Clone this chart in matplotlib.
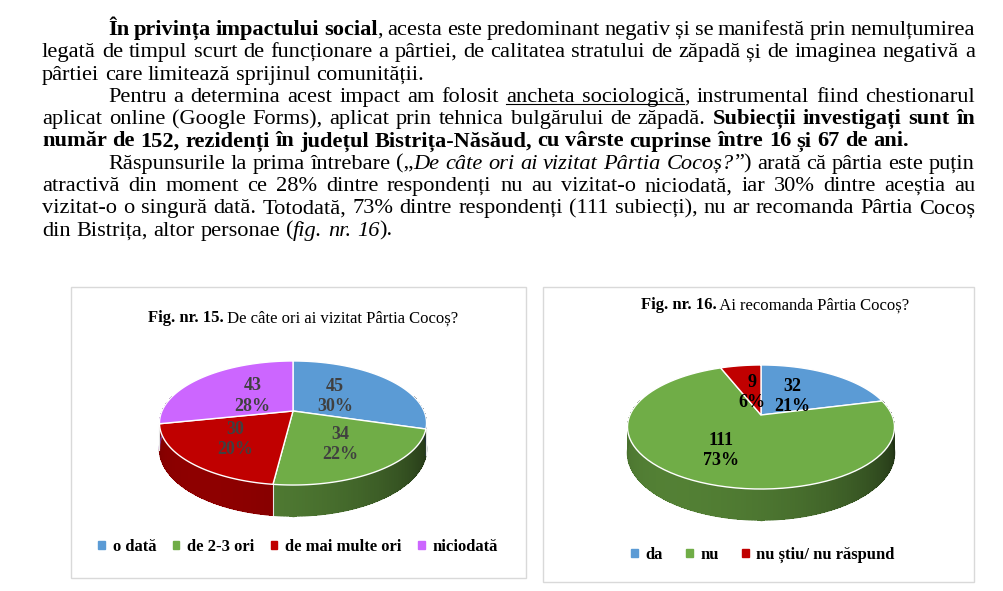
import numpy as np
import matplotlib.pyplot as plt
from matplotlib.patches import Rectangle, Patch
from matplotlib.colors import to_rgb

SERIF = 'Liberation Serif'

# fig. nr. 15 - De câte ori ai vizitat Pârtia Cocoș?
fig15_labels = ['o dată', 'de 2-3 ori', 'de mai multe ori', 'niciodată']
fig15_values = [45, 34, 30, 43]
fig15_colors = ['#5B9BD5', '#70AD47', '#C00000', '#CC66FF']

# fig. nr. 16 - Ai recomanda Pârtia Cocoș?
fig16_labels = ['da', 'nu', 'nu știu/ nu răspund']
fig16_values = [32, 111, 9]
fig16_colors = ['#5B9BD5', '#70AD47', '#C00000']

# page text: (pieces, first line of paragraph, last line of paragraph)
# style codes: n normal, b bold, i italic, u underlined
page_lines = [
    ([('În privința impactului social', 'b'),
      (', acesta este predominant negativ și se manifestă prin nemulțumirea', 'n')], True, False),
    ([('legată de timpul scurt de funcționare a pârtiei, de calitatea stratului de zăpadă și de imaginea negativă a', 'n')], False, False),
    ([('pârtiei care limitează sprijinul comunității.', 'n')], False, True),
    ([('Pentru a determina acest impact am folosit ', 'n'), ('ancheta sociologică', 'u'),
      (', instrumental fiind chestionarul', 'n')], True, False),
    ([('aplicat online (Google Forms), aplicat prin tehnica bulgărului de zăpadă. ', 'n'),
      ('Subiecții investigați sunt în', 'b')], False, False),
    ([('număr de 152, rezidenți în județul Bistrița-Năsăud, cu vârste cuprinse între 16 și 67 de ani.', 'b')], False, True),
    ([('Răspunsurile la prima întrebare („', 'n'), ('De câte ori ai vizitat Pârtia Cocoș?', 'i'),
      ('”) arată că pârtia este puțin', 'n')], True, False),
    ([('atractivă din moment ce 28% dintre respondenți nu au vizitat-o niciodată, iar 30% dintre aceștia au', 'n')], False, False),
    ([('vizitat-o o singură dată. Totodată, 73% dintre respondenți (111 subiecți), nu ar recomanda Pârtia Cocoș', 'n')], False, False),
    ([('din Bistrița, altor personae (', 'n'), ('fig. nr. 16', 'i'), (').', 'n')], False, True),
]

STYLE = {'n': {}, 'b': {'fontweight': 'bold'}, 'i': {'fontstyle': 'italic'}, 'u': {}}

W, H = 1004, 591
fig = plt.figure(figsize=(W / 100, H / 100), dpi=100)
ax = fig.add_axes([0, 0, 1, 1])
ax.set_xlim(0, W)
ax.set_ylim(H, 0)
ax.axis('off')
renderer = fig.canvas.get_renderer()


def text_width(s, st, fs):
    t = ax.text(0, 0, s, fontsize=fs, fontfamily=SERIF, **STYLE[st])
    w = t.get_window_extent(renderer).width
    t.remove()
    return w


def space_width(fs):
    return text_width('a a', 'n', fs) - text_width('aa', 'n', fs)


def split_words(pieces):
    words = [[]]
    for txt, st in pieces:
        for j, p in enumerate(txt.split(' ')):
            if j > 0:
                words.append([])
            if p:
                words[-1].append((p, st))
    return [w for w in words if w]


def draw_runs(x, y, pieces, fs, color='black'):
    for p, st in pieces:
        ax.text(x, y, p, fontsize=fs, fontfamily=SERIF, va='baseline', ha='left',
                color=color, zorder=5, **STYLE[st])
        x += text_width(p, st, fs)
    return x


# ---- justified paragraphs ----
LEFT, RIGHT, INDENT = 42, 975, 108
BASE0, LEAD = 35, 22.3

# size the font so the bold closing line of paragraph 2 ends where it does on the page
ref_words = split_words(page_lines[5][0])
w10 = sum(text_width(p, st, 10) for w in ref_words for p, st in w) + (len(ref_words) - 1) * space_width(10)
fs = 10 * (911 - LEFT) / w10
sp = space_width(fs)

for i, (pieces, first, last) in enumerate(page_lines):
    y = BASE0 + i * LEAD
    x0 = INDENT if first else LEFT
    words = split_words(pieces)
    widths = [sum(text_width(p, st, fs) for p, st in w) for w in words]
    gap = sp if last else (RIGHT - x0 - sum(widths)) / (len(words) - 1)
    x = x0
    ul = []
    for w, ww in zip(words, widths):
        xs = x
        for p, st in w:
            xe = xs + text_width(p, st, fs)
            if st == 'u':
                ul.append((xs, xe))
            xs = xe
        draw_runs(x, y, w, fs)
        x += ww + gap
    if ul:
        ax.plot([ul[0][0], ul[-1][1]], [y + 2.5, y + 2.5], color='black', lw=0.8)


# ---- 3D pies (perspective view of a flat cylinder) ----
K, A, RX, DEPTH = 0.1935, 59.7, 131, 25


def proj(cx, cy, th, r=1.0, z=0.0):
    x, y = r * np.cos(th), r * np.sin(th)
    f = 1 / (1 + K * y)
    return cx + RX * x * f, cy - A * y * f + DEPTH * z * f


def shade(color, th):
    b = 0.42 + 0.32 * np.cos(th - np.radians(-125))
    return tuple(c * b for c in to_rgb(color))


def slice_of(bounds, t):
    return np.nonzero((bounds[1:] <= t) & (t <= bounds[:-1]))[0][0]


def draw_pie(cx, cy, values, colors, label_color):
    total = sum(values)
    bounds = np.radians(90 - 360 * np.concatenate([[0], np.cumsum(values)]) / total)

    # side wall, far strips first
    edges = np.radians(np.arange(-195, 16, 1.0))
    strips = []
    for a, b in zip(edges[:-1], edges[1:]):
        m = (a + b) / 2
        strips.append((np.sin(m), a, b, slice_of(bounds, m)))
    for _, a, b, idx in sorted(strips, key=lambda s: -s[0]):
        xa, ya = proj(cx, cy, a)
        xb, yb = proj(cx, cy, b)
        xc, yc = proj(cx, cy, b, z=1)
        xd, yd = proj(cx, cy, a, z=1)
        c = shade(colors[idx], (a + b) / 2)
        ax.fill([xa, xb, xc, xd], [ya, yb, yc, yd], color=c, lw=0, antialiased=False, zorder=1)
    # smooth the lower rim of the wall
    tb = np.radians(np.linspace(-195, 15, 200))
    xb_, yb_ = proj(cx, cy, tb, z=1)
    for k in range(len(tb) - 1):
        m = (tb[k] + tb[k + 1]) / 2
        ax.plot(xb_[k:k + 2], yb_[k:k + 2], color=shade(colors[slice_of(bounds, m)], m),
                lw=1.0, solid_capstyle='butt', zorder=1.5)
    for t in bounds:
        if np.sin(t) < 0:
            x1, y1 = proj(cx, cy, t)
            x2, y2 = proj(cx, cy, t, z=1)
            ax.plot([x1, x2], [y1, y2], color='#e6e6e6', lw=0.8, zorder=1.6)

    # top face
    handles = []
    for i, v in enumerate(values):
        th = np.linspace(bounds[i], bounds[i + 1], 80)
        xs, ys = proj(cx, cy, th)
        ax.fill(np.r_[cx, xs], np.r_[cy, ys], color=colors[i], ec='white', lw=1.0, zorder=3)
        handles.append(Patch(color=colors[i]))
        mid = (bounds[i] + bounds[i + 1]) / 2
        r = 0.42 if np.sin(mid) > 0 else 0.6
        lx, ly = proj(cx, cy, mid, r=r)
        ax.text(lx, ly, f'{v}\n{round(100 * v / total)}%', ha='center', va='center',
                fontsize=13, fontweight='bold', fontfamily=SERIF, color=label_color,
                linespacing=1.25, zorder=4)
    return handles


# panel frames
ax.add_patch(Rectangle((71, 287), 455, 291, fc='white', ec='#d9d9d9', lw=1, zorder=0.5))
ax.add_patch(Rectangle((543, 287), 431, 295, fc='white', ec='#d9d9d9', lw=1, zorder=0.5))


def draw_title(xc, y, pieces, size):
    total_w = sum(text_width(p, st, size) for p, st in pieces)
    draw_runs(xc - total_w / 2, y, pieces, size)


draw_title(303, 322, [('Fig. nr. 15.', 'b'), (' De câte ori ai vizitat Pârtia Cocoș?', 'n')], 12)
draw_title(775, 309, [('Fig. nr. 16.', 'b'), (' Ai recomanda Pârtia Cocoș?', 'n')], 12)

h15 = draw_pie(293, 411, fig15_values, fig15_colors, '#404040')
h16 = draw_pie(761, 415, fig16_values, fig16_colors, 'black')

leg_font = {'family': SERIF, 'weight': 'bold', 'size': 12}
leg1 = ax.legend(h15, fig15_labels, loc='center', bbox_to_anchor=(298, 547),
                 bbox_transform=ax.transData, ncol=4, frameon=False, prop=leg_font,
                 handlelength=0.4, handleheight=0.4, handletextpad=0.45, columnspacing=1.0)
ax.add_artist(leg1)
ax.legend(h16, fig16_labels, loc='center', bbox_to_anchor=(763, 555),
          bbox_transform=ax.transData, ncol=3, frameon=False, prop=leg_font,
          handlelength=0.4, handleheight=0.4, handletextpad=0.45, columnspacing=1.4)

fig.savefig('out.png', dpi=100)
